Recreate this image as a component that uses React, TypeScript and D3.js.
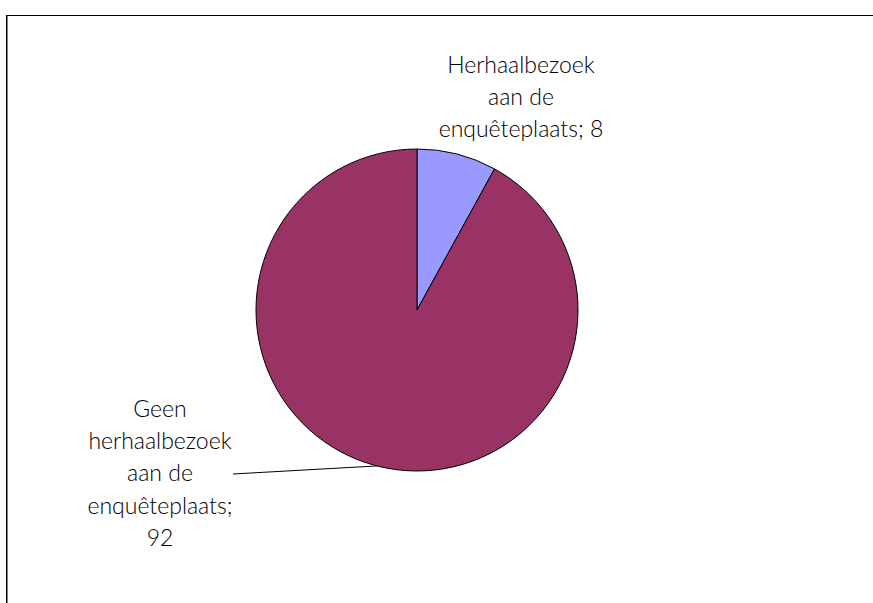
import React from "react";
import * as d3 from "d3";

const categories = ["Herhaalbezoek aan de enquêteplaats", "Geen herhaalbezoek aan de enquêteplaats"];
const values = [8, 92];
const colors = ["#9999FF", "#993366"];
const labelLines = [
  ["Herhaalbezoek", "aan de", "enquêteplaats; 8"],
  ["Geen", "herhaalbezoek", "aan de", "enquêteplaats;", "92"],
];

const W = 873;
const H = 603;
const cx = 417;
const cy = 310;
const R = 161;

export default function App() {
  const pie = d3.pie<number>().sort(null).startAngle(0).endAngle(2 * Math.PI);
  const arcs = pie(values);
  const arcGen = d3.arc<d3.PieArcDatum<number>>().innerRadius(0).outerRadius(R);

  const labelPos = [
    { x: 521, y: 73 },
    { x: 160, y: 417 },
  ];
  const lineH = 32.2;

  const big = arcs[1];
  const mid = (big.startAngle + big.endAngle) / 2;
  const px = cx + R * Math.sin(mid);
  const py = cy - R * Math.cos(mid);

  return (
    <svg width={W} height={H} style={{ position: "absolute", left: 0, top: 0 }}>
      <rect x={0} y={0} width={W} height={H} fill="#fff" />
      <rect x={6.5} y={15.5} width={W + 10} height={H + 10} fill="none" stroke="#000" strokeWidth={1} />
      <line x1={7.5} y1={16} x2={7.5} y2={H} stroke="#808080" strokeWidth={1} />
      <g transform={`translate(${cx},${cy})`}>
        {arcs.map((a, i) => (
          <path key={categories[i]} d={arcGen(a) || ""} fill={colors[i]} stroke="#000" strokeWidth={1} />
        ))}
      </g>
      <line x1={px} y1={py} x2={233} y2={474} stroke="#000" strokeWidth={1} />
      {labelLines.map((lines, i) => (
        <text
          key={i}
          x={labelPos[i].x}
          y={labelPos[i].y}
          textAnchor="middle"
          fontFamily="Lato, 'Open Sans', sans-serif"
          fontWeight={300}
          fontSize={23}
          fill="#000"
        >
          {lines.map((l, j) => (
            <tspan key={j} x={labelPos[i].x} y={labelPos[i].y + j * lineH}>
              {l}
            </tspan>
          ))}
        </text>
      ))}
    </svg>
  );
}
